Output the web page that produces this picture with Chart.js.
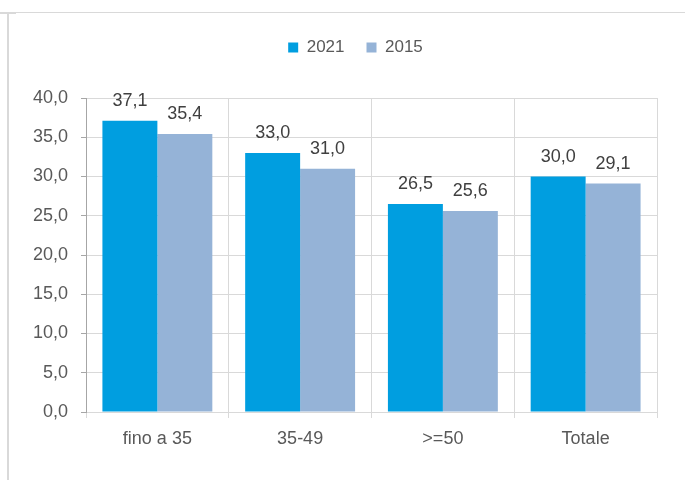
<!DOCTYPE html>
<html>
<head>
<meta charset="utf-8">
<script src="https://cdn.jsdelivr.net/npm/chart.js@4.4.0/dist/chart.umd.min.js"></script>
<style>
    body { margin: 0; background: #fff; }
    #wrap { position: relative; width: 685px; height: 480px; overflow: hidden; }
    #frameTop { position: absolute; left: 0; top: 12px; width: 685px; height: 1px; background: #d9d9d9; }
    #frameLeft { position: absolute; left: 7px; top: 12px; width: 2px; height: 468px; background: #d9d9d9; }
    #frameTick { position: absolute; left: 0; top: 12px; width: 16px; height: 2px; background: #d9d9d9; }
    canvas { position: absolute; left: 0; top: 0; }
</style>
</head>
<body>
<div id="wrap">
    <div id="frameTop"></div>
    <div id="frameLeft"></div>
    <div id="frameTick"></div>
    <canvas id="chart" width="685" height="480"></canvas>
</div>
<script>
const categories = ['fino a 35', '35-49', '>=50', 'Totale'];
const values2021 = [37.1, 33.0, 26.5, 30.0];
const values2015 = [35.4, 31.0, 25.6, 29.1];
const seriesNames = ['2021', '2015'];

const FONT = "'Liberation Sans', Arial, sans-serif";

function fmt(v) {
    return v.toFixed(1).replace('.', ',');
}

// Etichette sopra le barre
const valueLabels = {
    id: 'valueLabels',
    afterDatasetsDraw(chart) {
        const ctx = chart.ctx;
        ctx.save();
        ctx.font = '18px ' + FONT;
        ctx.fillStyle = '#404040';
        ctx.textAlign = 'center';
        ctx.textBaseline = 'alphabetic';
        chart.data.datasets.forEach((ds, i) => {
            chart.getDatasetMeta(i).data.forEach((bar, j) => {
                ctx.fillText(fmt(ds.data[j]), bar.x, bar.y - 15);
            });
        });
        ctx.restore();
    }
};

// Legenda: altezza fissa e spostata sopra il grafico
const legendBox = {
    id: 'legendBox',
    beforeInit(chart) {
        const fit = chart.legend.fit;
        chart.legend.fit = function () {
            fit.bind(chart.legend)();
            this.height = 81;
        };
    },
    afterLayout(chart) {
        chart.legend.left += 27;
        chart.legend.right += 27;
    }
};

Chart.defaults.font.family = FONT;
Chart.defaults.color = '#595959';

new Chart(document.getElementById('chart').getContext('2d'), {
    type: 'bar',
    data: {
        labels: categories,
        datasets: [{
            label: seriesNames[0],
            data: values2021,
            backgroundColor: '#009EE0',
            categoryPercentage: 0.77,
            barPercentage: 1.0
        }, {
            label: seriesNames[1],
            data: values2015,
            backgroundColor: '#95B3D7',
            categoryPercentage: 0.77,
            barPercentage: 1.0
        }]
    },
    options: {
        responsive: false,
        animation: false,
        layout: {
            padding: { left: 0, right: 28, top: 17, bottom: 0 }
        },
        plugins: {
            legend: {
                position: 'top',
                labels: {
                    boxWidth: 10,
                    boxHeight: 10,
                    padding: 22,
                    color: '#595959',
                    font: { size: 17, family: FONT }
                }
            },
            tooltip: { enabled: false }
        },
        scales: {
            x: {
                offset: true,
                grid: {
                    offset: true,
                    color: '#d9d9d9',
                    tickColor: '#d9d9d9',
                    tickLength: 6
                },
                border: { color: '#d9d9d9', width: 1 },
                ticks: {
                    color: '#595959',
                    padding: 10,
                    font: { size: 18, family: FONT }
                },
                afterFit(scale) { scale.height = 68; }
            },
            y: {
                min: 0,
                max: 40,
                grid: {
                    color: '#d9d9d9',
                    tickColor: '#a6a6a6',
                    tickLength: 5
                },
                border: { color: '#a6a6a6', width: 1 },
                ticks: {
                    stepSize: 5,
                    color: '#595959',
                    padding: 13,
                    font: { size: 18, family: FONT },
                    callback: (v) => fmt(v)
                },
                afterFit(scale) { scale.width = 86; }
            }
        }
    },
    plugins: [valueLabels, legendBox]
});
</script>
</body>
</html>
